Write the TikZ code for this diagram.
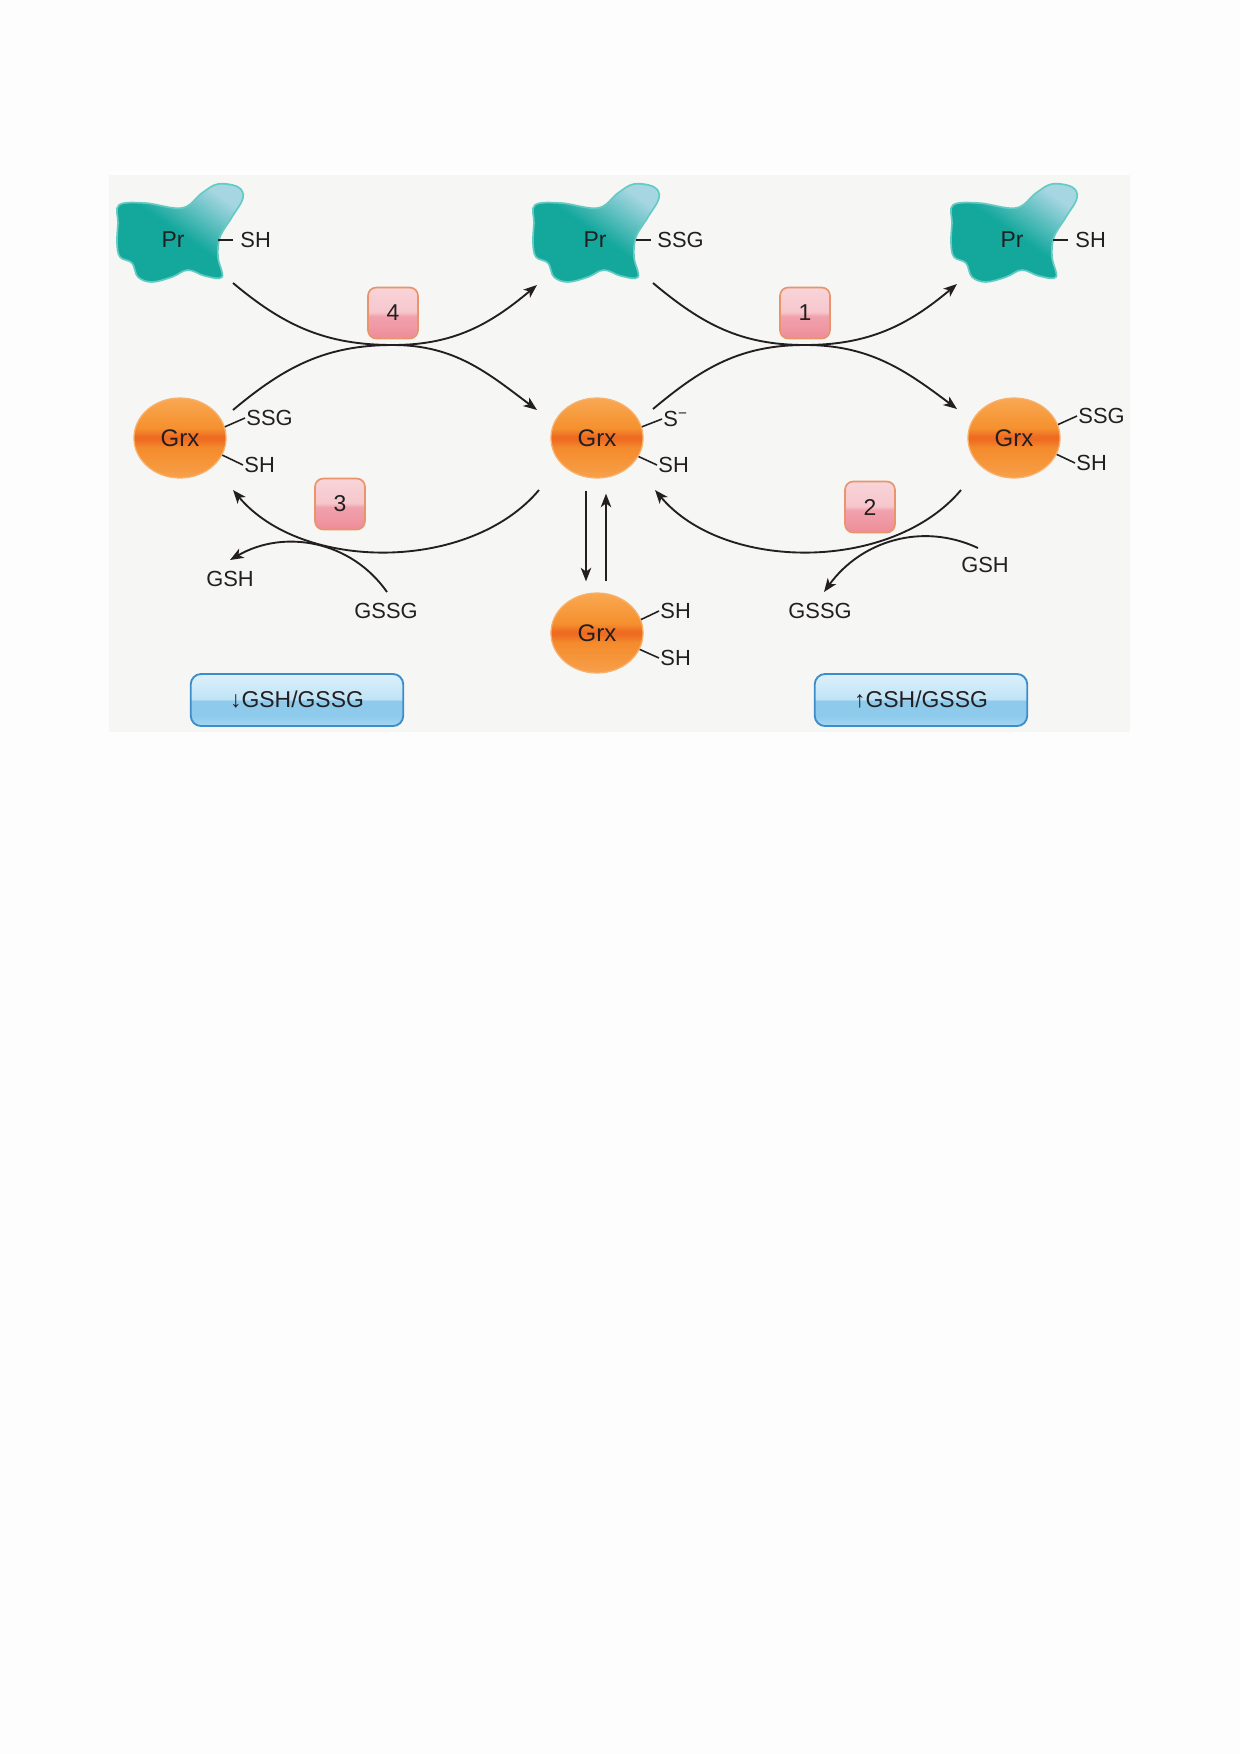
\documentclass[tikz,border=0pt]{standalone}
\usepackage{fontspec}
\setmainfont{Liberation Sans}
\usetikzlibrary{arrows.meta,shapes.geometric}

\definecolor{pagebg}{HTML}{FDFDFD}
\definecolor{panelbg}{HTML}{F6F6F5}
\definecolor{inktext}{HTML}{231F20}
\definecolor{prteal}{HTML}{14A89D}
\definecolor{prlight}{HTML}{A6D6E2}
\definecolor{prrim}{HTML}{63CBC2}
\definecolor{grxlight}{HTML}{F9A852}
\definecolor{grxorange}{HTML}{F5902E}
\definecolor{grxlow}{HTML}{F48B2C}
\definecolor{grxbottom}{HTML}{F7A04A}
\definecolor{grxdark}{HTML}{EE6B22}
\definecolor{grxrim}{HTML}{F8B06A}
\definecolor{stepdark}{HTML}{EE8D99}
\definecolor{stepmid}{HTML}{F1A2AD}
\definecolor{steplight}{HTML}{F6C7CD}
\definecolor{steptop}{HTML}{F8D4D8}
\definecolor{steprim}{HTML}{E9946C}
\definecolor{ratiobot}{HTML}{A6D7F1}
\definecolor{ratiodark}{HTML}{8DCAEB}
\definecolor{ratiomid}{HTML}{BFE4F6}
\definecolor{ratiotop}{HTML}{DDF0FA}
\definecolor{ratiorim}{HTML}{3E8DCB}

\pgfdeclareverticalshading{prshade}{100bp}{color(0bp)=(prteal); color(50bp)=(prteal); color(74bp)=(prlight); color(100bp)=(prlight)}
\pgfdeclareverticalshading{grxshade}{100bp}{color(0bp)=(grxbottom); color(25bp)=(grxbottom); color(44bp)=(grxlow); color(49bp)=(grxdark); color(51bp)=(grxdark); color(56bp)=(grxorange); color(75bp)=(grxlight); color(100bp)=(grxlight)}
\pgfdeclareverticalshading{stepshade}{100bp}{color(0bp)=(stepdark); color(25bp)=(stepdark); color(47bp)=(stepmid); color(51bp)=(steplight); color(75bp)=(steptop); color(100bp)=(steptop)}
\pgfdeclareverticalshading{ratioshade}{100bp}{color(0bp)=(ratiobot); color(25bp)=(ratiobot); color(35bp)=(ratiodark); color(49bp)=(ratiodark); color(51bp)=(ratiomid); color(75bp)=(ratiotop); color(100bp)=(ratiotop)}

\tikzset{
    pr-blob/.style = {draw=prrim, line width=0.8pt, shade, shading=prshade, shading angle=-35},
    pr-label/.style = {text=inktext, font=\fontsize{11}{13}\selectfont, inner sep=1pt},
    side-label/.style = {anchor=west, text=inktext, font=\fontsize{10.5}{12}\selectfont, inner sep=0.5pt},
    free-label/.style = {text=inktext, font=\fontsize{10.5}{12}\selectfont, inner sep=1pt},
    grx-ball/.style = {ellipse, draw=grxrim, line width=0.6pt, shade, shading=grxshade, minimum width=44.2pt, minimum height=38.4pt, inner sep=0pt, text=inktext, font=\fontsize{11.5}{13}\selectfont},
    step-box/.style = {draw=steprim, line width=0.8pt, rectangle, rounded corners=4pt, shade, shading=stepshade, minimum width=24pt, minimum height=24.5pt, inner sep=0pt, text=inktext, font=\fontsize{11}{13}\selectfont},
    ratio-box/.style = {draw=ratiorim, line width=0.9pt, rectangle, rounded corners=5pt, shade, shading=ratioshade, minimum width=102pt, minimum height=25pt, inner sep=0pt, text=inktext, font=\fontsize{11}{13}\selectfont},
    react/.style = {draw=inktext, line width=0.9pt, -{Stealth[length=6.5pt,width=5pt,inset=1.8pt]}},
    bond/.style = {draw=inktext, line width=0.75pt},
}

\newcommand\protblob[1]{%
  \path[pr-blob, shift={#1}] plot[smooth cycle, tension=0.6] coordinates {(-61,-27) (-35,-29) (2,-24) (22,-39) (38,-48) (58,-45) (63,-34) (52,-15) (40,5) (38,25) (42,45) (25,44) (8,38) (-8,45) (-28,50) (-42,45) (-48,31) (-60,25) (-63,11) (-62,-9)};}

\begin{document}
\begin{tikzpicture}[x=0.48pt,y=-0.48pt]
\fill[pagebg] (0,0) rectangle (1240,1754);
\useasboundingbox (0,0) rectangle (1240,1754);
\fill[panelbg] (109,175) rectangle (1130,732);

\protblob{(180,232)}
\protblob{(596,232)}
\protblob{(1014,232)}

\node[pr-label] (pr1) at (173,240) {Pr};
\node[pr-label] (pr2) at (595,240) {Pr};
\node[pr-label] (pr3) at (1012,240) {Pr};
\node[side-label] (sh1) at (239,240) {SH};
\node[side-label] (ssg2) at (656,240) {SSG};
\node[side-label] (sh3) at (1074,240) {SH};
\draw[bond] ([shift={(-6,0)}]sh1.west) -- ([shift={(-21,0)}]sh1.west);
\draw[bond] ([shift={(-5,0)}]ssg2.west) -- ([shift={(-20,0)}]ssg2.west);
\draw[bond] ([shift={(-6,0)}]sh3.west) -- ([shift={(-21,0)}]sh3.west);

\node[grx-ball] (grxl) at (180,438) {Grx};
\node[grx-ball] (grxc) at (597,438) {Grx};
\node[grx-ball] (grxr) at (1014,438) {Grx};
\node[grx-ball] (grxb) at (597,633) {Grx};

\node[side-label] (grxl-ssg) at (245,418) {SSG};
\node[side-label] (grxl-sh) at (243,465) {SH};
\node[side-label] (grxc-s) at (662,419) {S\textsuperscript{−}};
\node[side-label] (grxc-sh) at (657,465) {SH};
\node[side-label] (grxr-ssg) at (1077,416) {SSG};
\node[side-label] (grxr-sh) at (1075,463) {SH};
\node[side-label] (grxb-sh1) at (659,611) {SH};
\node[side-label] (grxb-sh2) at (659,658) {SH};
\draw[bond] (grxl.14) -- (grxl-ssg.west);
\draw[bond] (grxl.-22) -- (grxl-sh.west);
\draw[bond] (grxc.14) -- (grxc-s.west);
\draw[bond] (grxc.-24) -- (grxc-sh.west);
\draw[bond] (grxr.17) -- (grxr-ssg.west);
\draw[bond] (grxr.-21) -- (grxr-sh.west);
\draw[bond] (grxb.17) -- (grxb-sh1.west);
\draw[bond] (grxb.-21) -- (grxb-sh2.west);

\node[step-box] (s4) at (393,313) {4};
\node[step-box] (s1) at (805,313) {1};
\node[step-box] (s3) at (340,504) {3};
\node[step-box] (s2) at (870,507) {2};

\node[free-label] (gshl) at (230,579) {GSH};
\node[free-label] (gssgl) at (386,611) {GSSG};
\node[free-label] (gshr) at (985,565) {GSH};
\node[free-label] (gssgr) at (820,611) {GSSG};

\node[ratio-box] (lowratio) at (297,700) {↓GSH/GSSG};
\node[ratio-box] (highratio) at (921,700) {↑GSH/GSSG};

\coordinate (k4) at (393,345);
\coordinate (k1) at (805,345);

\draw[react] ([shift={(60,43)}]pr1.center) to[out=-40,in=180] (k4) to[out=0,in=143] ([shift={(-60,-28)}]grxc.center);
\draw[react] ([shift={(53,-28)}]grxl.center) to[out=40,in=180] (k4) to[out=0,in=-140] ([shift={(-58,45)}]pr2.center);
\draw[react] ([shift={(58,43)}]pr2.center) to[out=-40,in=180] (k1) to[out=0,in=143] ([shift={(-57,-29)}]grxr.center);
\draw[react] ([shift={(56,-29)}]grxc.center) to[out=40,in=180] (k1) to[out=0,in=-140] ([shift={(-55,44)}]pr3.center);

\draw[react] ([shift={(-58,52)}]grxc.center) to[out=-130,in=-50,looseness=0.9] ([shift={(53,52)}]grxl.center);
\draw[react] ([shift={(-53,52)}]grxr.center) to[out=-130,in=-50,looseness=0.9] ([shift={(58,52)}]grxc.center);
\draw[react] ([shift={(1,-19)}]gssgl.center) to[out=125,in=30] ([shift={(0,-19)}]gshl.center);
\draw[react] ([shift={(-7,-17)}]gshr.center) to[out=155,in=54] ([shift={(4,-19)}]gssgr.center);

\draw[react] ([shift={(-11,12)}]grxc.south) -- ([shift={(-11,-11)}]grxb.north);
\draw[react] ([shift={(9,-11)}]grxb.north) -- ([shift={(9,15)}]grxc.south);
\end{tikzpicture}
\end{document}
